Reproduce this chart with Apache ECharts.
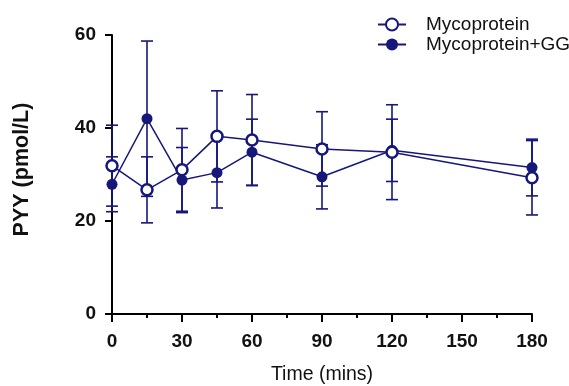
<!DOCTYPE html>
<html>
<head>
<meta charset="utf-8">
<script src="https://cdn.jsdelivr.net/npm/echarts@6/dist/echarts.min.js"></script>
<style>
  html, body { margin: 0; padding: 0; background: #fff; }
  #chart { width: 569px; height: 386px; }
</style>
</head>
<body>
<div id="chart"></div>
<script>
// PYY time course, mean ± error for each condition
const timePoints = [0, 15, 30, 45, 60, 90, 120, 180];
const mycoprotein = [31.9, 26.7, 31.0, 38.2, 37.4, 35.5, 34.8, 29.3];
const mycoproteinErr = [8.7, 7.1, 8.9, 9.8, 9.8, 8.0, 10.2, 8.0];
const mycoproteinGG = [27.9, 42.0, 28.8, 30.4, 34.8, 29.5, 35.2, 31.5];
const mycoproteinGGErr = [5.9, 16.7, 7.0, 7.6, 7.1, 6.9, 6.7, 6.1];
const xTicks = [0, 30, 60, 90, 120, 150, 180];
const yTicks = [0, 20, 40, 60];

const NAVY = '#15177a';
const FONT = 'Liberation Sans, Arial, sans-serif';

function pairs(values) {
  return timePoints.map((t, i) => [t, values[i]]);
}
function errTriples(values, errs) {
  return timePoints.map((t, i) => [t, values[i], errs[i]]);
}

// vertical whisker with caps at mean ± err
function renderErrorBar(params, api) {
  const x = api.value(0), m = api.value(1), e = api.value(2);
  const top = api.coord([x, m + e]);
  const bot = api.coord([x, m - e]);
  const hw = 6;
  const style = { stroke: NAVY, lineWidth: 1.6 };
  return {
    type: 'group',
    children: [
      { type: 'line', shape: { x1: top[0], y1: top[1], x2: bot[0], y2: bot[1] }, style },
      { type: 'line', shape: { x1: top[0] - hw, y1: top[1], x2: top[0] + hw, y2: top[1] }, style },
      { type: 'line', shape: { x1: bot[0] - hw, y1: bot[1], x2: bot[0] + hw, y2: bot[1] }, style }
    ]
  };
}

const chart = echarts.init(document.getElementById('chart'), null, { renderer: 'canvas' });

chart.setOption({
  animation: false,
  backgroundColor: '#ffffff',
  grid: { left: 112, right: 37, top: 35, bottom: 72, containLabel: false, outerBoundsMode: 'none' },
  legend: {
    orient: 'vertical',
    left: 377,
    top: 15,
    padding: 0,
    itemWidth: 28,
    itemHeight: 15,
    itemGap: 1,
    data: ['Mycoprotein', 'Mycoprotein+GG'],
    textStyle: { fontFamily: FONT, fontSize: 19, color: '#111', padding: [0, 0, 0, 15] }
  },
  xAxis: {
    type: 'value',
    min: xTicks[0],
    max: xTicks[xTicks.length - 1],
    interval: 30,
    name: 'Time (mins)',
    nameLocation: 'middle',
    nameGap: 51,
    nameTextStyle: { fontFamily: FONT, fontSize: 19.5, color: '#111' },
    axisLine: { show: true, onZero: false, lineStyle: { color: '#000', width: 2 } },
    axisTick: { show: true, length: 8, lineStyle: { color: '#000', width: 2 } },
    minorTick: { show: true, splitNumber: 2, length: 4, lineStyle: { color: '#000', width: 2 } },
    axisLabel: { fontFamily: FONT, fontSize: 19, fontWeight: 'bold', color: '#111', margin: 18 },
    splitLine: { show: false }
  },
  yAxis: {
    type: 'value',
    min: yTicks[0],
    max: yTicks[yTicks.length - 1],
    interval: 20,
    name: 'PYY (pmol/L)',
    nameLocation: 'middle',
    nameGap: 79,
    nameTextStyle: { fontFamily: FONT, fontSize: 21.5, fontWeight: 'bold', color: '#111', padding: [0, 0, 0, 10] },
    axisLine: { show: true, onZero: false, lineStyle: { color: '#000', width: 2 } },
    axisTick: { show: true, length: 7, lineStyle: { color: '#000', width: 2 } },
    axisLabel: { fontFamily: FONT, fontSize: 19, fontWeight: 'bold', color: '#111', margin: 16 },
    splitLine: { show: false }
  },
  series: [
    {
      type: 'custom',
      name: 'errGG',
      renderItem: renderErrorBar,
      data: errTriples(mycoproteinGG, mycoproteinGGErr),
      encode: { x: 0, y: 1 },
      z: 1,
      silent: true
    },
    {
      type: 'custom',
      name: 'errMyco',
      renderItem: renderErrorBar,
      data: errTriples(mycoprotein, mycoproteinErr),
      encode: { x: 0, y: 1 },
      z: 1,
      silent: true
    },
    {
      type: 'line',
      name: 'Mycoprotein+GG',
      data: pairs(mycoproteinGG),
      symbol: 'circle',
      symbolSize: 11,
      lineStyle: { color: NAVY, width: 1.5 },
      itemStyle: { color: NAVY, borderColor: NAVY, borderWidth: 0 },
      z: 3
    },
    {
      type: 'line',
      name: 'Mycoprotein',
      data: pairs(mycoprotein),
      symbol: 'circle',
      symbolSize: 11,
      lineStyle: { color: NAVY, width: 1.5 },
      itemStyle: { color: '#ffffff', borderColor: NAVY, borderWidth: 2.5 },
      z: 4
    }
  ]
});
</script>
</body>
</html>
